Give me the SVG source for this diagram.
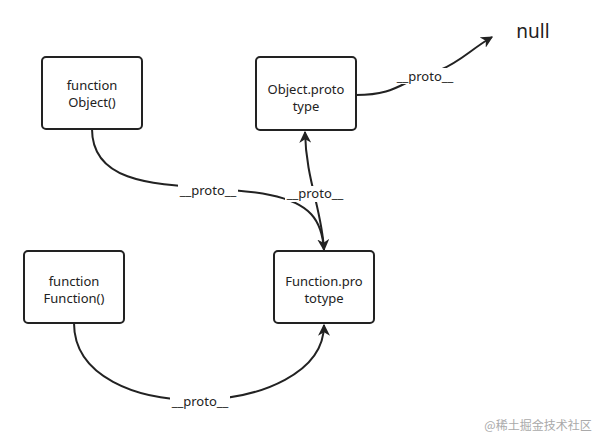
<svg xmlns="http://www.w3.org/2000/svg" width="607" height="446" viewBox="0 0 607 446">
<style>
.n rect{fill:#fff;stroke:#222;stroke-width:2}
text{font-family:"Noto Sans","Liberation Sans",sans-serif;font-size:13px;fill:#222;text-anchor:middle}
.c path{fill:none;stroke:#222;stroke-width:2}
.lb{fill:#fff}
</style>
<defs><marker id="a" viewBox="0 0 10 10" refX="9" refY="5" markerWidth="7" markerHeight="7" orient="auto-start-reverse" markerUnits="userSpaceOnUse"><path d="M0,0 L10,5 L0,10 L3,5 z" fill="#222"/></marker>
<marker id="b" viewBox="0 0 10 10" refX="9" refY="5" markerWidth="12" markerHeight="12" orient="auto" markerUnits="userSpaceOnUse"><path d="M0,0 L10,5 L0,10 L3,5 z" fill="#222"/></marker></defs>
<rect width="607" height="446" fill="#fff"/>
<g class="c">
<path d="M92,129 C92,200 200,180 270,195 C310,203 322,220 324,250" marker-end="url(#b)"/>
<path d="M324,250 C322,210 306,180 305,132" marker-end="url(#b)"/>
<path d="M356,95 C400,95 400,80 440,70 C460,62 470,50 492,37" marker-end="url(#b)"/>
<path d="M74,323 C74,430 324,420 324,325" marker-end="url(#b)"/>
<rect class="lb" x="178" y="182" width="60" height="16"/><text x="208" y="195">__proto__</text>
<rect class="lb" x="285" y="186" width="60" height="16"/><text x="315" y="198">__proto__</text>
<rect class="lb" x="395" y="68" width="60" height="16"/><text x="425" y="81">__proto__</text>
<rect class="lb" x="170" y="393" width="60" height="16"/><text x="200" y="406">__proto__</text>
</g>
<g id="object" class="n"><rect x="42" y="57" width="100" height="72" rx="4"/><text x="92" y="90">function</text><text x="92" y="107">Object()</text></g>
<g id="objproto" class="n"><rect x="256" y="57" width="100" height="73" rx="4"/><text x="306" y="94">Object.proto</text><text x="306" y="111">type</text></g>
<g id="function" class="n"><rect x="24" y="251" width="100" height="72" rx="4"/><text x="74" y="286">function</text><text x="74" y="303">Function()</text></g>
<g id="funproto" class="n"><rect x="274" y="251" width="100" height="72" rx="4"/><text x="324" y="286">Function.pro</text><text x="324" y="303">totype</text></g>
<text x="533" y="38" style="font-size:19px">null</text>
<text x="538" y="430" style="font-size:12px;fill:#aaa;font-family:'Noto Sans CJK SC',sans-serif">@稀土掘金技术社区</text>
</svg>
